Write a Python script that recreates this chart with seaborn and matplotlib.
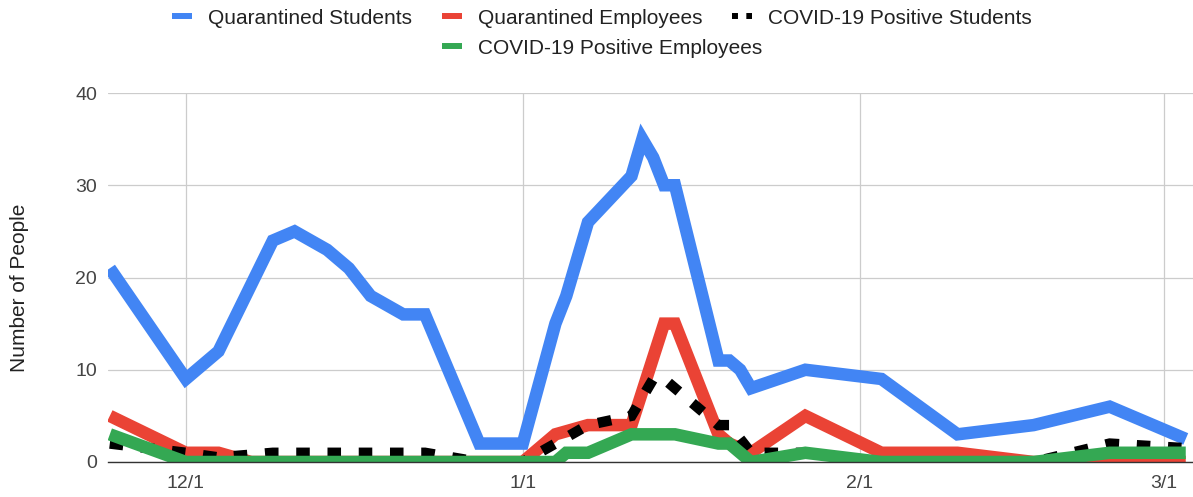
import pandas as pd
import matplotlib.pyplot as plt
import matplotlib.dates as mdates
from matplotlib.lines import Line2D
from matplotlib.ticker import FuncFormatter
import seaborn as sns

# values
q_students_dates = ['2020-11-24', '2020-12-01', '2020-12-04', '2020-12-09', '2020-12-11',
                    '2020-12-14', '2020-12-16', '2020-12-18', '2020-12-21', '2020-12-23',
                    '2020-12-28', '2021-01-01', '2021-01-04', '2021-01-05', '2021-01-07',
                    '2021-01-11', '2021-01-12', '2021-01-13', '2021-01-14', '2021-01-15',
                    '2021-01-19', '2021-01-20', '2021-01-21', '2021-01-22', '2021-01-27',
                    '2021-02-03', '2021-02-10', '2021-02-17', '2021-02-24', '2021-03-03']
q_students = [21, 9, 12, 24, 25, 23, 21, 18, 16, 16, 2, 2, 15, 18, 26,
              31, 35, 33, 30, 30, 11, 11, 10, 8, 10, 9, 3, 4, 6, 2.5]

q_employees_dates = ['2020-11-24', '2020-12-01', '2020-12-04', '2020-12-07', '2021-01-01',
                     '2021-01-04', '2021-01-07', '2021-01-11', '2021-01-14', '2021-01-15',
                     '2021-01-19', '2021-01-20', '2021-01-22', '2021-01-27', '2021-02-03',
                     '2021-02-10', '2021-02-17', '2021-02-24', '2021-03-03']
q_employees = [5, 1, 1, 0, 0, 3, 4, 4, 15, 15, 3, 2, 1, 5, 1, 1, 0, 0, 0]

pos_students_dates = ['2020-11-24', '2020-12-01', '2020-12-04', '2020-12-09', '2020-12-11',
                      '2020-12-14', '2020-12-16', '2020-12-18', '2020-12-21', '2020-12-23',
                      '2020-12-28', '2021-01-01', '2021-01-04', '2021-01-07', '2021-01-11',
                      '2021-01-12', '2021-01-13', '2021-01-14', '2021-01-15', '2021-01-19',
                      '2021-01-20', '2021-01-22', '2021-01-27', '2021-02-03', '2021-02-10',
                      '2021-02-17', '2021-02-24', '2021-03-03']
pos_students = [2, 1, 0.5, 1, 1, 1, 1, 1, 1, 1, 0, 0, 2, 4, 5,
                7, 9, 9, 8, 4, 4, 1, 1, 0, 0, 0, 2, 1.5]

pos_employees_dates = ['2020-11-24', '2020-12-01', '2021-01-04', '2021-01-05', '2021-01-07',
                       '2021-01-11', '2021-01-15', '2021-01-19', '2021-01-20', '2021-01-22',
                       '2021-01-27', '2021-02-03', '2021-02-17', '2021-02-24', '2021-03-03']
pos_employees = [3, 0, 0, 1, 1, 3, 3, 2, 2, 0, 1, 0, 0, 1, 1]

series_names = ['Quarantined Students', 'Quarantined Employees',
                'COVID-19 Positive Students', 'COVID-19 Positive Employees']
series_colors = ['#4285f4', '#ea4335', '#000000', '#34a853']

frames = []
for name, dates, vals in zip(series_names,
                             [q_students_dates, q_employees_dates, pos_students_dates, pos_employees_dates],
                             [q_students, q_employees, pos_students, pos_employees]):
    frames.append(pd.DataFrame({'date': pd.to_datetime(dates), 'count': vals, 'series': name}))
df = pd.concat(frames, ignore_index=True)

sns.set_style('white')
plt.rcParams['font.family'] = ['Liberation Sans', 'DejaVu Sans']

fig = plt.figure(figsize=(11.93, 4.97), dpi=100)
ax = fig.add_axes([108 / 1193, 35 / 497, 1085 / 1193, 369 / 497])

for name, color in zip(series_names, series_colors):
    sub = df[df['series'] == name]
    if name == 'COVID-19 Positive Students':
        sns.lineplot(data=sub, x='date', y='count', ax=ax, color=color, lw=7.5,
                     linestyle=(0, (1.3, 1.7)), dash_capstyle='butt',
                     dash_joinstyle='miter', legend=False)
    else:
        sns.lineplot(data=sub, x='date', y='count', ax=ax, color=color, lw=9,
                     solid_capstyle='butt', solid_joinstyle='miter', legend=False)

ax.set_ylim(0, 40)
ax.set_yticks([0, 10, 20, 30, 40])
ax.set_xlim(pd.Timestamp('2020-11-24') - pd.Timedelta(hours=4),
            pd.Timestamp('2021-03-03') + pd.Timedelta(hours=16))
ax.xaxis.set_major_locator(mdates.MonthLocator())
ax.xaxis.set_major_formatter(FuncFormatter(
    lambda v, _: f"{mdates.num2date(v).month}/{mdates.num2date(v).day}"))

ax.grid(True, color='#cccccc', lw=0.9)
ax.set_axisbelow(True)
for side in ['left', 'top', 'right']:
    ax.spines[side].set_visible(False)
ax.spines['bottom'].set_color('#333333')
ax.spines['bottom'].set_linewidth(1.0)
ax.spines['bottom'].set_zorder(5)
ax.tick_params(axis='both', length=0, labelsize=14, labelcolor='#444444')
ax.tick_params(axis='y', pad=8)
ax.tick_params(axis='x', pad=9)
ax.set_xlabel('')
ax.set_ylabel('')

fig.text(20 / 1193, 1 - 288 / 497, 'Number of People', rotation=90, ha='center',
         va='center', fontsize=15, color='#222222')

handles = [
    Line2D([], [], color=series_colors[0], lw=4.3, solid_capstyle='butt'),
    Line2D([], [], color=series_colors[1], lw=4.3, solid_capstyle='butt'),
    Line2D([], [], color=series_colors[2], lw=4.3, linestyle=(0, (1, 1.4)), dash_capstyle='butt'),
    Line2D([], [], color=series_colors[3], lw=4.3, solid_capstyle='butt'),
]
leg_kw = dict(loc='center', frameon=False, fontsize=15, handlelength=0.96,
              handletextpad=0.77, columnspacing=1.44, labelcolor='#222222')
fig.legend(handles[:3], series_names[:3], ncol=3,
           bbox_to_anchor=(602 / 1193, 1 - 18 / 497), **leg_kw)
fig.legend(handles[3:], series_names[3:], ncol=1,
           bbox_to_anchor=(602 / 1193, 1 - 48 / 497), **leg_kw)

fig.savefig('out.png', dpi=100)
